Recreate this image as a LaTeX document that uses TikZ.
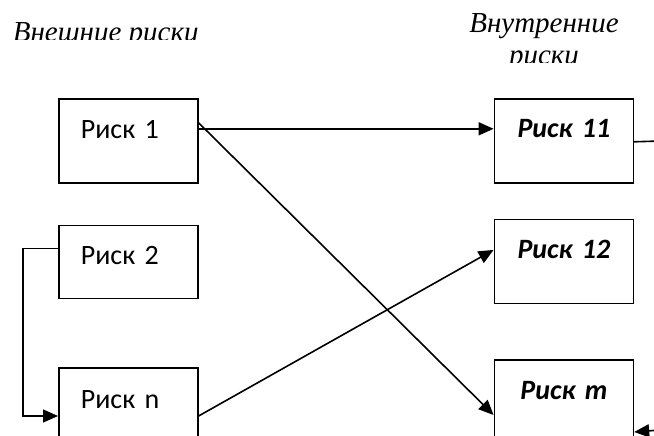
\documentclass[tikz,border=0pt]{standalone}
\usepackage{fontspec}
\setmainfont{Carlito}
\newfontfamily\headfont{Liberation Serif}
\usetikzlibrary{positioning,arrows.meta}

\begin{document}
\begin{tikzpicture}[x=1pt,y=-1pt,line width=1.6pt,
        riskbox/.style={draw,rectangle,inner ysep=0pt,font=\fontsize{28}{32}\selectfont},
        extbox/.style={riskbox,inner xsep=22pt,text width=95pt,align=left,text height=40pt,text depth=44pt},
        intbox/.style={riskbox,inner xsep=4pt,text width=131pt,align=center,text height=39pt,text depth=45pt,
                font=\fontsize{28}{32}\selectfont\bfseries\itshape},
        head/.style={inner sep=0pt,font=\headfont\itshape\fontsize{29}{32}\selectfont},
        arr/.style={-{Triangle[length=15pt,width=13pt]}}]

    \useasboundingbox (0,0) rectangle (654,436);
    \clip (0,0) rectangle (654,436);

    \begin{scope}
        \clip (0,0) rectangle (400,40);
        \node[head,anchor=base west] (hext) at (12,42) {Внешние риски};
    \end{scope}
    \begin{scope}
        \clip (400,0) rectangle (654,63);
        \node[head,align=center,anchor=north] (hint) at (544,13) {Внутренние\\риски};
    \end{scope}

    \node[extbox,anchor=north west] (r1) at (58,98) {Риск 1};
    \node[extbox,text height=39pt,text depth=34pt,below=41pt of r1] (r2) {Риск 2};
    \node[extbox,below=68pt of r2] (rn) {Риск n};
    \node[intbox,right=295pt of r1] (r11) {Риск 11};
    \node[intbox,below=35pt of r11] (r12) {Риск 12};
    \node[intbox,below=55pt of r12] (rm) {Риск m};

    \coordinate (out11) at (660,141);
    \coordinate (inm) at (660,430);

    \draw[arr] ([yshift=12pt]r1.east) -- ([yshift=12pt]r11.west);
    \draw[arr] ([yshift=18pt]r1.east) -- ([yshift=-13pt]rm.west);
    \draw[arr] ([yshift=-6pt]rn.east) -- ([yshift=11.5pt]r12.west);
    \draw[arr] ([yshift=13.5pt]r2.west) -- ++(-35pt,0) |- ([yshift=-6pt]rn.west);
    \draw ([yshift=-1pt]r11.east) -- (out11);
    \draw[arr] (inm) -- ([yshift=-30pt]rm.east);
\end{tikzpicture}
\end{document}
